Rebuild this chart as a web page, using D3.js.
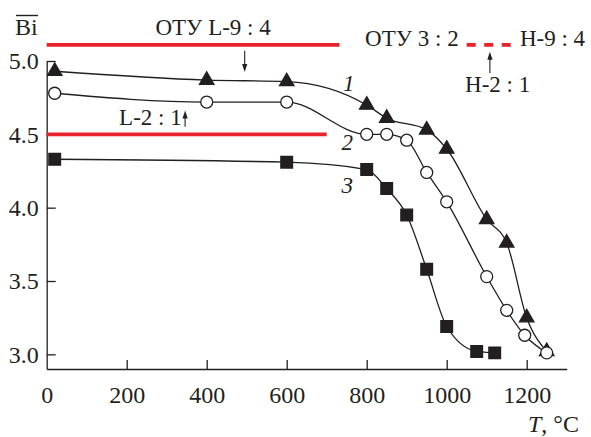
<!DOCTYPE html>
<html>
<head>
<meta charset="utf-8">
<script src="https://cdn.jsdelivr.net/npm/d3@7"></script>
<style>
  body { margin: 0; background: #fff; }
  svg { display: block; }
</style>
</head>
<body>
<div id="container"></div>
<script>
const width = 591;
const height = 437;
const ink = '#231f20';
const red = '#e8222a';

// temperature, °C / mean Bi
const temp1 = [20, 400, 600, 800, 850, 950, 1000, 1100, 1150, 1200, 1250];
const bi1 = [4.93, 4.87, 4.86, 4.70, 4.61, 4.53, 4.40, 3.92, 3.76, 3.25, 3.02];

const temp2 = [20, 400, 600, 800, 850, 900, 950, 1000, 1100, 1150, 1195, 1250];
const bi2 = [4.78, 4.72, 4.72, 4.50, 4.50, 4.46, 4.24, 4.04, 3.53, 3.30, 3.13, 3.01];

const temp3 = [20, 600, 800, 850, 900, 950, 1000, 1075, 1120];
const bi3 = [4.33, 4.31, 4.26, 4.13, 3.95, 3.58, 3.19, 3.02, 3.01];

const xTicks = [0, 200, 400, 600, 800, 1000, 1200];
const yTicks = [3.0, 3.5, 4.0, 4.5, 5.0];

// reference levels: [from T, to T, Bi]
const levelL94 = [0, 732, 5.11];
const levelL21 = [0, 700, 4.5];
const levelH94 = [1050, 1165, 5.11];

const x = d3.scaleLinear().domain([0, 1300]).range([46.7, 566.7]);
const y = d3.scaleLinear().domain([2.9, 5.0]).range([369, 61]);

const svg = d3.select('#container')
  .append('svg')
  .attr('width', width)
  .attr('height', height)
  .attr('font-family', '"Liberation Serif", "Times New Roman", serif')
  .attr('fill', ink);

// axes
svg.append('g')
  .attr('transform', `translate(0,${y(2.9)})`)
  .call(d3.axisBottom(x).tickValues(xTicks).tickSize(-9).tickSizeOuter(0).tickPadding(17)
    .tickFormat(d3.format('d')))
  .attr('font-family', null).attr('font-size', 24)
  .call(g => g.select('.domain').attr('stroke', ink).attr('stroke-width', 1.3))
  .call(g => g.selectAll('.tick line').attr('stroke', ink).attr('stroke-width', 1.3)
    .filter(d => d === 0).remove())
  .call(g => g.selectAll('.tick text').attr('fill', ink));

svg.append('g')
  .attr('transform', `translate(${x(0)},0)`)
  .call(d3.axisLeft(y).tickValues(yTicks).tickSize(-9).tickSizeOuter(0).tickPadding(8)
    .tickFormat(d3.format('.1f')))
  .attr('font-family', null).attr('font-size', 24)
  .call(g => g.select('.domain').attr('stroke', ink).attr('stroke-width', 1.3))
  .call(g => g.selectAll('.tick line').attr('stroke', ink).attr('stroke-width', 1.3))
  .call(g => g.selectAll('.tick text').attr('fill', ink));

// red reference lines
const level = (l, dashed) => svg.append('line')
  .attr('x1', x(l[0])).attr('x2', x(l[1]))
  .attr('y1', y(l[2])).attr('y2', y(l[2]))
  .attr('stroke', red).attr('stroke-width', 3.6)
  .attr('stroke-dasharray', dashed ? '9,8.5' : null);

level(levelL94);
level(levelL21);
level(levelH94, true);

// curves
const line = d3.line()
  .x(d => x(d[0]))
  .y(d => y(d[1]))
  .curve(d3.curveMonotoneX);

const series = [
  { t: temp1, b: bi1, sym: d3.symbolTriangle, size: 90, fill: ink },
  { t: temp2, b: bi2, sym: d3.symbolCircle, size: Math.PI * 36, fill: '#fff' },
  { t: temp3, b: bi3, sym: d3.symbolSquare, size: 136, fill: ink }
];

series.forEach(s => {
  const pts = s.t.map((t, i) => [t, s.b[i]]);
  svg.append('path')
    .attr('d', line(pts))
    .attr('fill', 'none')
    .attr('stroke', ink)
    .attr('stroke-width', 1.3);
  svg.append('g').selectAll('path')
    .data(pts)
    .join('path')
    .attr('transform', d => `translate(${x(d[0])},${y(d[1])})`)
    .attr('d', d3.symbol(s.sym, s.size))
    .attr('fill', s.fill)
    .attr('stroke', ink)
    .attr('stroke-width', 1.3);
});

// labels
const label = (txt, t, b, opts = {}) => svg.append('text')
  .attr('x', x(t)).attr('y', y(b))
  .attr('font-size', opts.size || 23)
  .attr('font-style', opts.italic ? 'italic' : null)
  .attr('text-anchor', opts.anchor || 'start')
  .text(txt);

const arrow = (t, from, to) => {
  const x0 = x(t), y0 = y(from), y1 = y(to);
  const dir = y1 > y0 ? 1 : -1;
  svg.append('line')
    .attr('x1', x0).attr('x2', x0)
    .attr('y1', y0).attr('y2', y1 - dir * 6)
    .attr('stroke', ink).attr('stroke-width', 1.1);
  svg.append('path')
    .attr('d', `M${x0},${y1}L${x0 - 2.6},${y1 - dir * 8}L${x0 + 2.6},${y1 - dir * 8}Z`)
    .attr('fill', ink);
};

label('ОТУ L-9 : 4', 416, 5.177, { anchor: 'middle' });
arrow(495, 5.07, 4.925);
label('L-2 : 1', 181, 4.564);
arrow(346, 4.552, 4.662);
label('ОТУ 3 : 2', 796, 5.104);
label('Н-9 : 4', 1183, 5.10);
label('Н-2 : 1', 1046, 4.79);
arrow(1108, 4.918, 5.063);

label('1', 741, 4.797, { italic: true });
label('2', 737, 4.393, { italic: true });
label('3', 737, 4.10, { italic: true });

// axis titles
const bi = svg.append('text')
  .attr('x', 15).attr('y', 35)
  .attr('font-size', 24)
  .text('Bi');
const bb = bi.node().getBBox();
svg.append('line')
  .attr('x1', bb.x + 1).attr('x2', bb.x + bb.width)
  .attr('y1', 15.5).attr('y2', 15.5)
  .attr('stroke', ink).attr('stroke-width', 1.4);

const tt = svg.append('text')
  .attr('x', 528).attr('y', 431.7)
  .attr('font-size', 24);
tt.append('tspan').attr('font-style', 'italic').text('T');
tt.append('tspan').text(', °C');
</script>
</body>
</html>
